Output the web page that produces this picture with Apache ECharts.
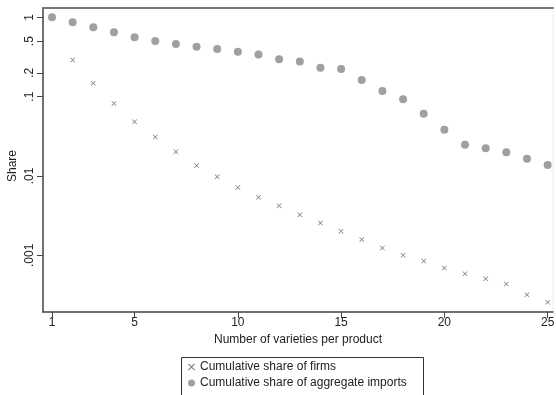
<!DOCTYPE html>
<html>
<head>
<meta charset="utf-8">
<script src="https://cdn.jsdelivr.net/npm/echarts@6/dist/echarts.min.js"></script>
<style>
html,body{margin:0;padding:0;background:#fff;}
#c{width:556px;height:395px;}
</style>
</head>
<body>
<div id="c"></div>
<script>
var varieties = [1,2,3,4,5,6,7,8,9,10,11,12,13,14,15,16,17,18,19,20,21,22,23,24,25];
var firmsShare = [1, 0.289, 0.147, 0.0817, 0.0482, 0.0309, 0.0202, 0.0136, 0.0098, 0.00715, 0.0054, 0.00421, 0.00325, 0.00255, 0.00201, 0.00158, 0.00124, 0.0010, 0.00085, 0.00069, 0.000585, 0.000506, 0.000434, 0.000318, 0.000256];
var importsShare = [1.0, 0.866, 0.749, 0.648, 0.561, 0.504, 0.462, 0.424, 0.400, 0.367, 0.340, 0.297, 0.278, 0.231, 0.223, 0.162, 0.118, 0.0927, 0.0607, 0.0382, 0.0248, 0.0223, 0.0199, 0.0165, 0.0138];
var xTicks = [1, 5, 10, 15, 20, 25];
var yTicks = [1, 0.5, 0.2, 0.1, 0.01, 0.001];
var yTickLabels = ['1', '.5', '.2', '.1', '.01', '.001'];
var seriesNames = ['Cumulative share of firms', 'Cumulative share of aggregate imports'];
var xTitle = 'Number of varieties per product';
var yTitle = 'Share';

function pairs(ys){ return varieties.map(function(x,i){ return [x, ys[i]]; }); }
function yLabel(v){
  var best = 0, bd = Infinity;
  for (var i = 0; i < yTicks.length; i++) {
    var d = Math.abs(Math.log10(yTicks[i]) - Math.log10(v));
    if (d < bd) { bd = d; best = i; }
  }
  return yTickLabels[best];
}
var FONT = 'Liberation Sans, Arial, sans-serif';
var crossPath = 'path://M0,1L1,0L5,4L9,0L10,1L6,5L10,9L9,10L5,6L1,10L0,9L4,5Z';

var chart = echarts.init(document.getElementById('c'), null, {renderer:'canvas'});
chart.setOption({
  animation: false,
  backgroundColor: '#fff',
  grid: {left: 43, right: 3, top: 8, bottom: 83, containLabel: false, outerBoundsMode: 'none',
         show: true, borderColor: '#ececec', borderWidth: 1, backgroundColor: 'transparent'},
  xAxis: [{
    type: 'value', min: 0.565, max: 25.26,
    name: xTitle, nameLocation: 'middle', nameGap: 19,
    nameTextStyle: {fontFamily: FONT, fontSize: 12, color: '#222'},
    axisLine: {show: true, lineStyle: {color: '#444', width: 1.5}},
    axisTick: {show: true, length: 6, lineStyle: {color: '#444'}, customValues: xTicks},
    axisLabel: {fontFamily: FONT, fontSize: 12, color: '#222', margin: 5, customValues: xTicks},
    splitLine: {show: false}
  }, {
    type: 'value', position: 'top', min: 0.565, max: 25.26,
    axisLine: {show: true, lineStyle: {color: '#777', width: 2}},
    axisTick: {show: false}, axisLabel: {show: false}, splitLine: {show: false}
  }],
  yAxis: {
    type: 'log', logBase: 10, min: 0.000193, max: 1.31,
    name: yTitle, nameLocation: 'middle', nameGap: 24, nameRotate: 90, nameMoveOverlap: false,
    nameTextStyle: {fontFamily: FONT, fontSize: 12, color: '#222', padding: [0, 0, 0, -12]},
    axisLine: {show: true, lineStyle: {color: '#444', width: 1.5}},
    axisTick: {show: true, length: 6, lineStyle: {color: '#444'}, customValues: yTicks},
    axisLabel: {fontFamily: FONT, fontSize: 12, color: '#222', rotate: 90, margin: 7, customValues: yTicks, formatter: yLabel},
    splitLine: {show: false}
  },
  legend: {
    orient: 'vertical', left: 188, top: 360, padding: 0, height: 60,
    itemWidth: 7, itemHeight: 7, itemGap: 2,
    textStyle: {fontFamily: FONT, fontSize: 12, color: '#222', lineHeight: 14},
    data: seriesNames
  },
  graphic: [{
    type: 'rect', left: 179, top: 355,
    shape: {width: 242, height: 50},
    style: {fill: 'none', stroke: '#333', lineWidth: 1}, z: 100
  }],
  series: [{
    name: seriesNames[0], type: 'scatter', data: pairs(firmsShare),
    symbol: crossPath, symbolSize: 5,
    itemStyle: {color: '#7a7a7a', opacity: 1}, z: 2
  }, {
    name: seriesNames[1], type: 'scatter', data: pairs(importsShare),
    symbol: 'circle', symbolSize: 8,
    itemStyle: {color: '#a0a0a0', opacity: 1}, z: 3
  }]
});
</script>
</body>
</html>
